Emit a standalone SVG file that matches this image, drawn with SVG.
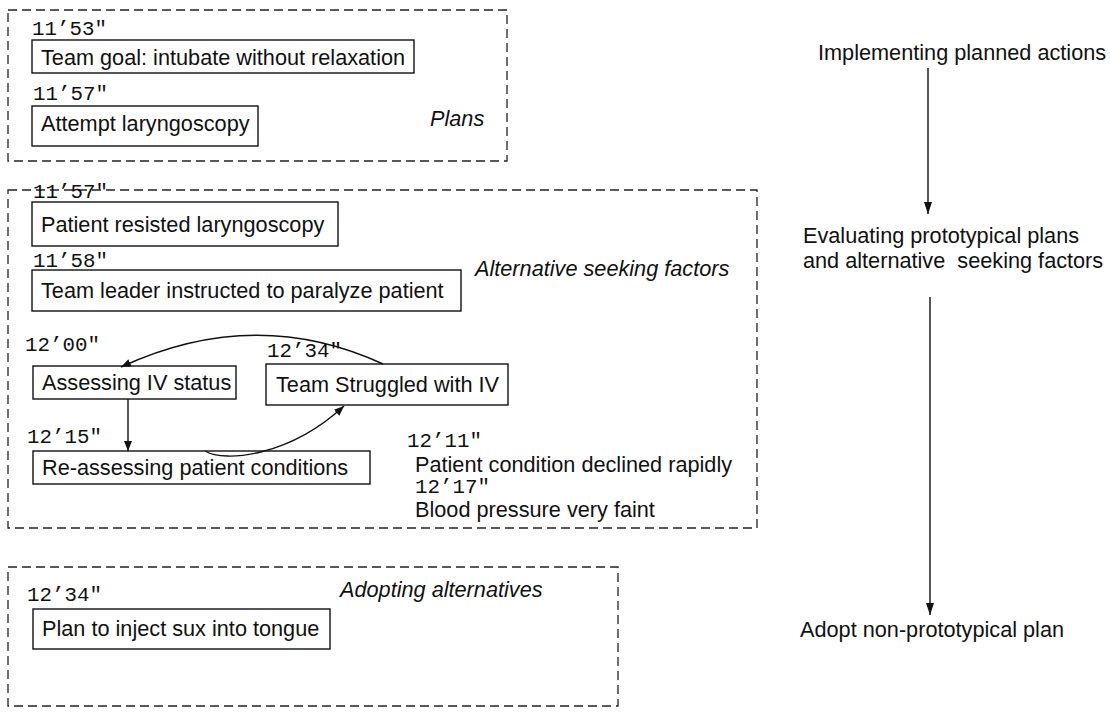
<svg xmlns="http://www.w3.org/2000/svg" width="1110" height="718" viewBox="0 0 1110 718">
<style>
.frame{fill:none;stroke:#222;stroke-width:1.3;stroke-dasharray:9 5}
.box{fill:#fff;stroke:#111;stroke-width:1.4}
.t{font-family:"Liberation Sans",Arial,sans-serif;font-size:21.7px;fill:#111}
.it{font-family:"Liberation Sans",Arial,sans-serif;font-size:21.7px;font-style:italic;fill:#111}
.ts{font-family:"Liberation Mono","Courier New",monospace;font-size:20.8px;fill:#111}
.edge{fill:none;stroke:#111;stroke-width:1.4}
</style>
<defs>
<marker id="ah" viewBox="0 0 10 10" refX="10" refY="5" markerWidth="10" markerHeight="10" markerUnits="userSpaceOnUse" orient="auto">
<path d="M0,1 L10,5 L0,9 z" fill="#111"/>
</marker>
<marker id="ahl" viewBox="0 0 12 10" refX="12" refY="5" markerWidth="12" markerHeight="10" markerUnits="userSpaceOnUse" orient="auto">
<path d="M0,1 L12,5 L0,9 z" fill="#111"/>
</marker>
</defs>
<rect width="1110" height="718" fill="#fff"/>

<g id="plans-frame">
<rect class="frame" x="8" y="10" width="499" height="151"/>
<text class="it" x="430" y="126">Plans</text>
</g>
<g id="n-team-goal">
<text class="ts" x="32" y="35">11’53"</text>
<rect class="box" x="32" y="40" width="382" height="33"/>
<text class="t" x="41" y="65">Team goal: intubate without relaxation</text>
</g>
<g id="n-attempt">
<text class="ts" x="33" y="100">11’57"</text>
<rect class="box" x="32" y="106" width="226" height="40"/>
<text class="t" x="41" y="131">Attempt laryngoscopy</text>
</g>

<g id="alt-frame">
<rect class="frame" x="8" y="190" width="749" height="338"/>
<text class="it" x="475" y="276">Alternative seeking factors</text>
</g>
<g id="n-resisted">
<text class="ts" x="33" y="198">11’57"</text>
<rect class="box" x="32" y="202" width="306" height="44"/>
<text class="t" x="41" y="232">Patient resisted laryngoscopy</text>
</g>
<g id="n-leader">
<text class="ts" x="33" y="267">11’58"</text>
<rect class="box" x="32" y="270" width="429" height="41"/>
<text class="t" x="41" y="298">Team leader instructed to paralyze patient</text>
</g>
<g id="n-assessing">
<text class="ts" x="25" y="351">12’00"</text>
<rect class="box" x="33" y="366" width="203" height="33"/>
<text class="t" x="42" y="390">Assessing IV status</text>
</g>
<g id="n-struggled">
<text class="ts" x="267" y="357">12’34"</text>
<rect class="box" x="266" y="364" width="242" height="41"/>
<text class="t" x="276" y="392">Team Struggled with IV</text>
</g>
<g id="n-reassessing">
<text class="ts" x="27" y="443">12’15"</text>
<rect class="box" x="33" y="451" width="337" height="33"/>
<text class="t" x="42" y="475">Re-assessing patient conditions</text>
</g>
<g id="n-declined">
<text class="ts" x="407" y="447">12’11"</text>
<text class="t" x="415" y="472">Patient condition declined rapidly</text>
</g>
<g id="n-bp">
<text class="ts" x="415" y="493">12’17"</text>
<text class="t" x="415" y="517">Blood pressure very faint</text>
</g>

<g id="adopt-frame">
<rect class="frame" x="8" y="567" width="610" height="139"/>
<text class="it" x="340" y="597">Adopting alternatives</text>
</g>
<g id="n-sux">
<text class="ts" x="27" y="601">12’34"</text>
<rect class="box" x="33" y="609" width="297" height="40"/>
<text class="t" x="42" y="636">Plan to inject sux into tongue</text>
</g>

<g id="r-implementing">
<text class="t" x="818" y="60">Implementing planned actions</text>
</g>
<g id="r-evaluating">
<text class="t" x="803" y="243">Evaluating prototypical plans</text>
<text class="t" x="803" y="268" style="white-space:pre">and alternative  seeking factors</text>
</g>
<g id="r-adopt">
<text class="t" x="800" y="637">Adopt non-prototypical plan</text>
</g>

<g id="connectors">
<path class="edge" d="M383,364 Q255,305 121,367" marker-end="url(#ah)"/>
<path class="edge" d="M128,399 L128,451" marker-end="url(#ah)"/>
<path class="edge" d="M205,451 C225,463 290,456 344,406" marker-end="url(#ah)"/>
<path class="edge" d="M928,68 L928,214" marker-end="url(#ahl)"/>
<path class="edge" d="M930,297 L930,615" marker-end="url(#ahl)"/>
</g>
</svg>
